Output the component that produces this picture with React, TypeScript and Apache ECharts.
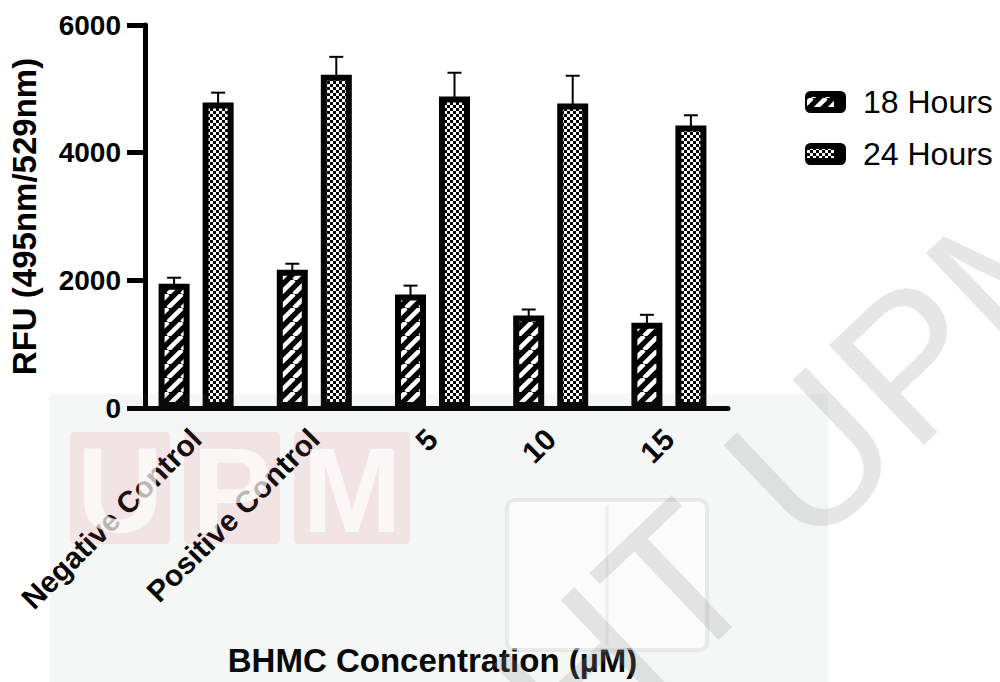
import React, { useEffect, useRef } from "react";
import * as echarts from "echarts";

const categories = ["Negative Control", "Positive Control", "5", "10", "15"];
const seriesNames = ["18 Hours", "24 Hours"];
const mean18 = [1948, 2166, 1777, 1449, 1335];
const err18 = [93, 94, 140, 94, 125];
const mean24 = [4784, 5221, 4878, 4769, 4426];
const err24 = [156, 280, 374, 436, 160];
const yTicks = { min: 0, max: 6000, interval: 2000 };

function makeHatch(): HTMLCanvasElement {
  const c = document.createElement("canvas");
  const s = 14;
  c.width = s;
  c.height = s;
  const g = c.getContext("2d")!;
  g.fillStyle = "#000";
  g.fillRect(0, 0, s, s);
  g.strokeStyle = "#fff";
  g.lineWidth = 4.5;
  for (const k of [-s, 0, s]) {
    g.beginPath();
    g.moveTo(k, s);
    g.lineTo(k + s, 0);
    g.stroke();
  }
  return c;
}

function makeChecker(): HTMLCanvasElement {
  const c = document.createElement("canvas");
  c.width = 6;
  c.height = 6;
  const g = c.getContext("2d")!;
  g.fillStyle = "#fff";
  g.fillRect(0, 0, 6, 6);
  g.fillStyle = "#000";
  g.fillRect(0, 0, 3, 3);
  g.fillRect(3, 3, 3, 3);
  return c;
}

const FONT = "'Liberation Sans', Arial, Helvetica, sans-serif";

export default function App() {
  const ref = useRef<HTMLDivElement>(null);
  useEffect(() => {
    document.body.style.margin = "0";
    if (!ref.current) return;
    const chart = echarts.init(ref.current, null, { renderer: "svg" });
    const hatch = { image: makeHatch(), repeat: "repeat" };
    const checker = { image: makeChecker(), repeat: "repeat" };
    const offsets = [-22, 22];
    const errSeries = (means: number[], errs: number[], si: number) => ({
      type: "custom",
      name: seriesNames[si] + " err",
      z: 5,
      silent: true,
      data: means.map((m, i) => [i, m, errs[i]]),
      renderItem: (params: any, api: any) => {
        const idx = api.value(0);
        const m = api.value(1);
        const e = api.value(2);
        const b = api.coord([idx, m]);
        const t = api.coord([idx, m + e]);
        const x = b[0] + offsets[si];
        return {
          type: "group",
          children: [
            { type: "line", shape: { x1: x, y1: b[1] + 2, x2: x, y2: t[1] }, style: { stroke: "#000", lineWidth: 2 } },
            { type: "line", shape: { x1: x - 7, y1: t[1], x2: x + 7, y2: t[1] }, style: { stroke: "#000", lineWidth: 2 } },
          ],
        };
      },
    });
    const wmGray = "rgba(140,140,140,0.22)";
    const option: any = {
      animation: false,
      backgroundColor: "#fff",
      textStyle: { fontFamily: FONT },
      grid: { left: 134, right: 272, top: 25, bottom: 271 },
      legend: {
        orient: "vertical",
        left: 800,
        top: 81,
        itemWidth: 41,
        itemHeight: 22,
        itemGap: 20,
        icon: "roundRect",
        data: seriesNames,
        itemStyle: { color: "#000", borderWidth: 0 },
        textStyle: { fontSize: 32, color: "#000", fontFamily: FONT, padding: [0, 0, 0, 12] },
      },
      xAxis: {
        type: "category",
        data: categories,
        name: "BHMC Concentration (µM)",
        nameLocation: "middle",
        nameGap: 236,
        nameTextStyle: { fontSize: 33, fontWeight: "bold", color: "#000", fontFamily: FONT },
        axisLine: { lineStyle: { color: "#000", width: 5 } },
        axisTick: { alignWithLabel: true, length: 20, lineStyle: { color: "#000", width: 5 } },
        axisLabel: { rotate: 45, fontSize: 30, fontWeight: "bold", color: "#000", margin: 26, fontFamily: FONT },
      },
      yAxis: {
        type: "value",
        min: yTicks.min,
        max: yTicks.max,
        interval: yTicks.interval,
        offset: -8,
        name: "RFU (495nm/529nm)",
        nameLocation: "middle",
        nameGap: 104,
        nameRotate: 90,
        nameTextStyle: { fontSize: 33, fontWeight: "bold", color: "#000", fontFamily: FONT },
        axisLine: { show: true, lineStyle: { color: "#000", width: 5 } },
        axisTick: { show: true, length: 18, lineStyle: { color: "#000", width: 5 } },
        axisLabel: { fontSize: 28, fontWeight: "bold", color: "#000", margin: 24, fontFamily: FONT, formatter: (v: number) => String(v) },
        splitLine: { show: false },
      },
      series: [
        {
          type: "bar",
          name: seriesNames[0],
          data: mean18,
          barWidth: 31,
          barGap: "42%",
          itemStyle: { color: hatch, borderColor: "#000", borderWidth: 6 },
        },
        {
          type: "bar",
          name: seriesNames[1],
          data: mean24,
          barWidth: 31,
          barGap: "42%",
          itemStyle: { color: checker, borderColor: "#000", borderWidth: 6 },
        },
        errSeries(mean18, err18, 0),
        errSeries(mean24, err24, 1),
      ],
      graphic: [
        { type: "rect", z: 110, silent: true, shape: { x: 807, y: 97, width: 27, height: 10 }, style: { fill: hatch } },
        { type: "rect", z: 110, silent: true, shape: { x: 807, y: 149, width: 27, height: 9 }, style: { fill: checker } },
        { type: "rect", z: 100, silent: true, shape: { x: 50, y: 394, width: 778, height: 288 }, style: { fill: "rgba(110,130,130,0.07)" } },
        { type: "rect", z: 101, silent: true, shape: { x: 70, y: 432, width: 100, height: 112, r: 4 }, style: { fill: "rgba(220,60,70,0.10)" } },
        { type: "rect", z: 101, silent: true, shape: { x: 184, y: 432, width: 96, height: 112, r: 4 }, style: { fill: "rgba(220,60,70,0.10)" } },
        { type: "rect", z: 101, silent: true, shape: { x: 294, y: 432, width: 116, height: 112, r: 4 }, style: { fill: "rgba(220,60,70,0.10)" } },
        { type: "text", z: 102, silent: true, style: { x: 120, y: 490, text: "U", fontSize: 120, fontWeight: "bold", fontFamily: FONT, fill: "rgba(255,255,255,0.7)", align: "center", verticalAlign: "middle" } },
        { type: "text", z: 102, silent: true, style: { x: 232, y: 490, text: "P", fontSize: 120, fontWeight: "bold", fontFamily: FONT, fill: "rgba(255,255,255,0.7)", align: "center", verticalAlign: "middle" } },
        { type: "text", z: 102, silent: true, style: { x: 352, y: 490, text: "M", fontSize: 120, fontWeight: "bold", fontFamily: FONT, fill: "rgba(255,255,255,0.7)", align: "center", verticalAlign: "middle" } },
        { type: "rect", z: 101, silent: true, shape: { x: 507, y: 500, width: 200, height: 150, r: 8 }, style: { fill: "rgba(255,255,255,0.55)", stroke: "rgba(150,150,150,0.15)", lineWidth: 4 } },
        { type: "line", z: 101, silent: true, shape: { x1: 607, y1: 505, x2: 607, y2: 645 }, style: { stroke: "rgba(150,150,150,0.12)", lineWidth: 3 } },
        {
          type: "text",
          z: 103,
          silent: true,
          x: 805,
          y: 462,
          rotation: 0.76,
          style: { x: 0, y: 0, text: "HT UPM", fontSize: 200, fontFamily: FONT, fill: wmGray, align: "center", verticalAlign: "middle" },
        },
      ],
    };
    chart.setOption(option);
    return () => chart.dispose();
  }, []);
  return <div ref={ref} style={{ position: "absolute", left: 0, top: 0, width: 1000, height: 682 }} />;
}
